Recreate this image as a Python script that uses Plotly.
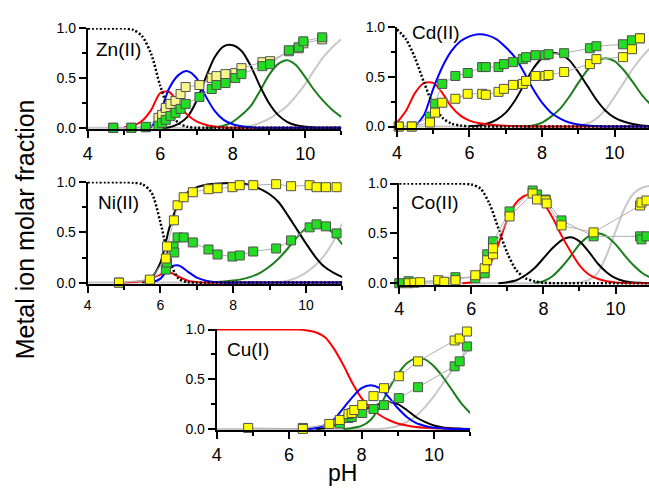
import plotly.graph_objects as go

W, H = 649, 490
FONT = "Liberation Sans, Arial, sans-serif"

# ---------------- data ----------------
PH_GRID = [4.0, 4.25, 4.5, 4.75, 5.0, 5.25, 5.5, 5.75, 6.0, 6.25, 6.5, 6.75, 7.0, 7.25,
           7.5, 7.75, 8.0, 8.25, 8.5, 8.75, 9.0, 9.25, 9.5, 9.75, 10.0, 10.25, 10.5, 10.75, 11.0]
N = None

# Zn(II) speciation curves
ZN_FREE = [1, 1, 1, 1, 1, .985, .92, .74, .42, .17, .05, .01, 0, 0, 0, 0, 0, 0, 0, 0, 0, 0, 0, 0, 0, 0, 0, 0, 0]
ZN_RED = [N, N, N, N, .005, .02, .07, .18, .35, .36, .24, .13, .065, .03, .012, .004, 0, 0, 0, 0, 0, 0, 0, 0, 0, 0, 0, 0, 0]
ZN_BLUE = [N, N, N, N, N, N, 0, .01, .16, .4, .53, .57, .5, .32, .17, .08, .035, .015, .005, 0, 0, 0, 0, 0, 0, 0, 0, 0, 0]
ZN_BLACK = [N, N, N, N, N, N, N, N, 0, .005, .04, .11, .27, .5, .71, .82, .83, .77, .62, .42, .25, .13, .06, .025, .01, .003, 0, 0, 0]
ZN_GREEN = [N, N, N, N, N, N, N, N, N, N, N, N, N, 0, .005, .02, .06, .13, .22, .37, .53, .64, .68, .63, .51, .38, .27, .18, .11]
ZN_GRAY = [0, 0, 0, 0, 0, 0, 0, 0, 0, 0, 0, 0, 0, 0, 0, 0, 0, 0, .02, .05, .09, .15, .22, .32, .44, .58, .71, .81, .89]
ZN_PTS_PH = [4.7, 5.2, 5.6, 5.95, 6.05, 6.15, 6.28, 6.42, 6.56, 6.7, 7.08, 7.42, 7.55, 7.8, 8.07, 8.24, 8.82, 9.03, 9.55, 9.82, 9.95, 10.47]
ZN_YELLOW = [0, 0, 0.005, 0.1, 0.13, 0.2, 0.24, 0.27, 0.34, 0.41, 0.43, 0.5, 0.52, 0.54, 0.55, 0.6, 0.66, 0.67, 0.77, 0.8, 0.85, 0.89]
ZN_GREENPTS = [0, 0, 0.01, 0.02, 0.05, 0.08, 0.12, 0.15, 0.19, 0.24, 0.31, 0.39, 0.43, 0.45, 0.5, 0.54, 0.62, 0.64, 0.78, 0.81, 0.87, 0.91]

# Cd(II)
CD_FREE = [.98, .88, .69, .44, .22, .09, .03, .01, 0, 0, 0, 0, 0, 0, 0, 0, 0, 0, 0, 0, 0, 0, 0, 0, 0, 0, 0, 0, 0]
CD_RED = [.04, .16, .34, .44, .44, .34, .2, .11, .06, .035, .02, .012, .007, .004, .002, 0, 0, 0, 0, 0, 0, 0, 0, 0, 0, 0, 0, 0, 0]
CD_BLUE = [N, N, 0, .12, .38, .6, .76, .86, .91, .93, .92, .88, .8, .7, .55, .38, .24, .14, .08, .04, .02, .01, .005, 0, 0, 0, 0, 0, 0]
CD_BLACK = [N, N, N, N, N, N, N, N, .005, .01, .03, .07, .14, .26, .42, .58, .69, .74, .73, .67, .55, .41, .27, .16, .09, .05, .025, .01, .005]
CD_GREEN = [N, N, N, N, N, N, N, N, N, N, N, N, N, N, 0, .01, .04, .1, .18, .3, .44, .57, .66, .69, .66, .57, .45, .32, .22]
CD_GRAY = [0, 0, 0, 0, 0, 0, 0, 0, 0, 0, 0, 0, 0, 0, 0, 0, 0, 0, 0, 0, .01, .03, .08, .17, .3, .44, .58, .7, .8]
CD_PTS_PH = [4.05, 4.41, 4.91, 5.05, 5.25, 5.61, 5.95, 6.35, 6.45, 6.8, 6.95, 7.2, 7.47, 7.56, 7.82, 8.09, 8.18, 8.61, 9.32, 9.5, 10.23, 10.48, 10.7]
CD_YELLOW = [0, 0, 0.04, 0.14, 0.24, 0.28, 0.33, 0.33, 0.32, 0.35, 0.38, 0.42, 0.43, 0.46, 0.51, 0.51, 0.52, 0.55, 0.63, 0.68, 0.7, 0.78, 0.89]
CD_GREENPTS = [0, 0, 0.1, 0.23, 0.43, 0.51, 0.54, 0.6, 0.6, 0.6, 0.63, 0.65, 0.68, 0.7, 0.72, 0.72, 0.73, 0.74, 0.79, 0.81, 0.83, 0.87, 0.89]

# Ni(II)
NI_FREE = [1, 1, 1, 1, 1, .995, .98, .9, .6, .22, .04, .005, 0, 0, 0, 0, 0, 0, 0, 0, 0, 0, 0, 0, 0, 0, 0, 0, 0]
NI_RED = [N, N, N, N, 0, .005, .015, .04, .08, .1, .06, .02, .005, 0, 0, 0, 0, 0, 0, 0, 0, 0, 0, 0, 0, 0, 0, 0, 0]
NI_BLUE = [N, N, N, N, N, N, N, 0, .04, .15, .17, .11, .05, .02, .005, 0, 0, 0, 0, 0, 0, 0, 0, 0, 0, 0, 0, 0, 0]
NI_BLACK = [N, N, N, N, N, N, 0, .05, .2, .55, .79, .9, .95, .975, .985, .99, .99, .985, .97, .93, .88, .8, .67, .53, .39, .26, .16, .1, .055]
NI_GREEN = [N, N, N, N, N, N, N, N, N, N, N, N, N, N, .005, .01, .02, .035, .06, .1, .16, .24, .34, .45, .54, .58, .56, .49, .38]
NI_GRAY = [0, 0, 0, 0, 0, 0, 0, 0, 0, 0, 0, 0, 0, 0, 0, 0, 0, 0, 0, 0, 0, .005, .02, .05, .1, .17, .27, .41, .59]
NI_YELLOW_PH = [4.86, 5.71, 6.15, 6.18, 6.37, 6.47, 6.64, 6.89, 7.32, 7.57, 7.98, 8.18, 8.55, 9.18, 9.59, 10.1, 10.29, 10.55, 10.84]
NI_YELLOW = [0, 0.03, 0.24, 0.36, 0.62, 0.77, 0.85, 0.9, 0.93, 0.94, 0.95, 0.97, 0.97, 0.98, 0.96, 0.97, 0.95, 0.95, 0.95]
NI_GREEN_PH = [4.86, 5.71, 6.15, 6.18, 6.36, 6.38, 6.47, 6.64, 6.89, 7.32, 7.57, 7.98, 8.18, 8.55, 9.18, 9.59, 10.1, 10.29, 10.55, 10.84]
NI_GREENPTS = [0, 0.02, 0.13, 0.2, 0.36, 0.3, 0.45, 0.45, 0.4, 0.33, 0.28, 0.26, 0.27, 0.31, 0.34, 0.42, 0.55, 0.58, 0.56, 0.49]

# Co(II)
CO_FREE = [1, 1, 1, 1, 1, 1, 1, 1, .99, .95, .8, .55, .3, .13, .05, .02, .005, 0, 0, 0, 0, 0, 0, 0, 0, 0, 0, 0, 0]
CO_RED = [N, N, N, N, N, N, N, 0, .01, .05, .18, .39, .64, .81, .88, .88, .8, .66, .48, .32, .18, .09, .045, .02, .008, .003, 0, 0, 0]
CO_BLACK = [N, N, N, N, N, N, N, N, N, N, N, 0, .01, .03, .08, .15, .25, .35, .43, .46, .42, .32, .2, .11, .05, .02, .008, .003, 0]
CO_GREEN = [N, N, N, N, N, N, N, N, N, N, N, N, N, N, N, .005, .02, .07, .16, .27, .39, .47, .5, .47, .39, .28, .18, .1, .05]
CO_GRAY = [0, 0, 0, 0, 0, 0, 0, 0, 0, 0, 0, 0, 0, 0, 0, 0, 0, 0, 0, 0, .01, .03, .1, .28, .52, .75, .9, .96, .98]
CO_YELLOW_PH = [4.26, 4.42, 4.58, 5.08, 5.25, 5.56, 6.11, 6.37, 6.44, 6.6, 6.6, 7.06, 7.7, 7.82, 8.06, 8.09, 8.5, 9.39, 10.68, 10.72, 10.86]
CO_YELLOW = [0, 0.005, 0.01, 0.03, 0.015, 0.03, 0.08, 0.15, 0.23, 0.29, 0.35, 0.67, 0.9, 0.84, 0.83, 0.8, 0.58, 0.51, 0.78, 0.81, 0.83]
CO_GREEN_PH = [4.0, 4.26, 5.08, 5.56, 6.11, 6.37, 6.44, 6.6, 6.6, 7.06, 7.7, 7.82, 8.06, 8.5, 9.39, 10.68, 10.72, 10.86]
CO_GREENPTS = [0.0, 0.02, 0.02, 0.06, 0.05, 0.1, 0.29, 0.4, 0.42, 0.72, 0.93, 0.89, 0.84, 0.63, 0.47, 0.47, 0.44, 0.47]

# Cu(I)
CU_RED = [1, 1, 1, 1, 1, 1, 1, 1, 1, 1, .99, .97, .92, .8, .64, .46, .31, .21, .14, .09, .055, .035, .02, .012, .007, .004, .002, 0, 0]
CU_BLUE = [N, N, N, N, N, N, N, N, N, N, 0, .01, .04, .1, .21, .32, .41, .44, .41, .32, .21, .12, .06, .03, .012, .005, 0, 0, 0]
CU_BLACK = [N, N, N, N, N, N, N, N, N, N, N, 0, .01, .04, .08, .13, .18, .22, .25, .27, .25, .19, .12, .07, .035, .015, .007, .003, 0]
CU_GREEN = [N, N, N, N, N, N, N, N, N, N, N, N, N, N, 0, .01, .03, .09, .22, .4, .55, .66, .71, .7, .63, .52, .39, .26, .16]
CU_GRAY = [0, 0, 0, 0, 0, 0, 0, 0, 0, 0, 0, 0, 0, 0, 0, 0, 0, 0, 0, .01, .03, .07, .13, .22, .33, .46, .59, .71, .81]
CU_YELLOW_PH = [4.87, 6.38, 7.11, 7.4, 7.64, 7.73, 7.8, 8.02, 8.33, 8.62, 9.03, 9.56, 10.57, 10.71, 10.91]
CU_YELLOW = [0.01, 0.0, 0.05, 0.09, 0.15, 0.16, 0.19, 0.24, 0.33, 0.41, 0.53, 0.68, 0.89, 0.91, 0.98]
CU_GREEN_PH = [6.38, 7.4, 7.64, 7.73, 8.02, 8.33, 8.62, 9.03, 9.56, 10.57, 10.71, 10.91]
CU_GREENPTS = [0.01, 0.055, 0.11, 0.12, 0.16, 0.2, 0.24, 0.31, 0.42, 0.63, 0.68, 0.83]

X_TICKS = [4, 6, 8, 10]
Y_TICKS = [0.0, 0.5, 1.0]
Y_TICKTEXT = ["0.0", "0.5", "1.0"]

# ---------------- styles ----------------
C_GRAY = "#c8c8c8"
C_GREEN = "#1a7f1a"
C_BLACK = "#000000"
C_RED = "#ff0000"
C_BLUE = "#0000ff"
PT_GREEN = "#22dd22"
PT_YELLOW = "#ffff00"
PT_YELLOW_ZN = "#f6f68c"
PT_EDGE = "#505050"
CONNECT = "#b0b0b0"
DOT = "2px,2px"

# panel pixel geometry: (x of pH 4, px per pH unit, right px limit, y of 1.0, y of 0.0)
panels = [
    dict(label="Zn(II)", lab=(90, 43), geo=(83.5, 36.5, 339.0, 21.0, 123.3), xfs=18,
         curves=[(ZN_GRAY, C_GRAY, None), (ZN_GREEN, C_GREEN, None), (ZN_BLACK, C_BLACK, None),
                 (ZN_RED, C_RED, None), (ZN_BLUE, C_BLUE, None), (ZN_FREE, C_BLACK, DOT)],
         pts=[(ZN_PTS_PH, ZN_YELLOW, PT_YELLOW_ZN), (ZN_PTS_PH, ZN_GREENPTS, PT_GREEN)]),
    dict(label="Cd(II)", lab=(408, 25), geo=(395.0, 36.55, 649.0, 20.0, 122.0), xfs=18,
         curves=[(CD_GRAY, C_GRAY, None), (CD_GREEN, C_GREEN, None), (CD_BLACK, C_BLACK, None),
                 (CD_RED, C_RED, None), (CD_BLUE, C_BLUE, None), (CD_FREE, C_BLACK, DOT)],
         pts=[(CD_PTS_PH, CD_GREENPTS, PT_GREEN), (CD_PTS_PH, CD_YELLOW, PT_YELLOW)]),
    dict(label="Ni(II)", lab=(92, 200), geo=(83.3, 36.67, 340.0, 179.3, 282.7), xfs=14,
         curves=[(NI_GRAY, C_GRAY, None), (NI_GREEN, C_GREEN, None), (NI_BLACK, C_BLACK, None),
                 (NI_RED, C_RED, None), (NI_BLUE, C_BLUE, None), (NI_FREE, C_BLACK, DOT)],
         pts=[(NI_GREEN_PH, NI_GREENPTS, PT_GREEN), (NI_YELLOW_PH, NI_YELLOW, PT_YELLOW)]),
    dict(label="Co(II)", lab=(407, 200), geo=(397.3, 36.33, 649.0, 180.7, 283.3), xfs=18,
         curves=[(CO_GRAY, C_GRAY, None), (CO_GREEN, C_GREEN, None), (CO_BLACK, C_BLACK, None),
                 (CO_RED, C_RED, None), (CO_FREE, C_BLACK, DOT)],
         pts=[(CO_GREEN_PH, CO_GREENPTS, PT_GREEN), (CO_YELLOW_PH, CO_YELLOW, PT_YELLOW)]),
    dict(label="Cu(I)", lab=(222, 352), geo=(213.3, 36.5, 468.8, 331.0, 433.3), xfs=18,
         curves=[(CU_GRAY, C_GRAY, None), (CU_GREEN, C_GREEN, None), (CU_BLACK, C_BLACK, None),
                 (CU_RED, C_RED, None), (CU_BLUE, C_BLUE, None)],
         pts=[(CU_GREEN_PH, CU_GREENPTS, PT_GREEN), (CU_YELLOW_PH, CU_YELLOW, PT_YELLOW)]),
]

YMIN, YMAX = -0.015, 1.005

fig = go.Figure()
layout = dict(
    width=W, height=H, margin=dict(l=0, r=0, t=0, b=0),
    paper_bgcolor="white", plot_bgcolor="white", showlegend=False,
    font=dict(family=FONT, color="black"),
)
annotations = []

for i, p in enumerate(panels):
    n = i + 1
    xa = "x" if n == 1 else f"x{n}"
    ya = "y" if n == 1 else f"y{n}"
    x4, ppu, xr_lim, y1, y0 = p["geo"]
    xr = min(x4 + 7 * ppu, xr_lim)
    xmax = 4 + (xr - x4) / ppu
    s = y0 - y1
    top = y1 - (YMAX - 1) * s
    bottom = y0 - YMIN * s
    xkey = "xaxis" if n == 1 else f"xaxis{n}"
    ykey = "yaxis" if n == 1 else f"yaxis{n}"
    layout[xkey] = dict(
        domain=[x4 / W, xr / W], range=[4, xmax], anchor=ya,
        showline=True, linecolor="black", linewidth=2, mirror=False,
        showgrid=False, zeroline=False,
        ticks="outside", ticklen=7, tickwidth=1.5, tickcolor="black",
        tickvals=X_TICKS, ticktext=[str(v) for v in X_TICKS],
        tickfont=dict(family=FONT, size=p["xfs"], color="black"),
        minor=dict(ticks="outside", ticklen=4, tickwidth=1.5, tickcolor="black", dtick=1, tick0=4),
    )
    layout[ykey] = dict(
        domain=[1 - bottom / H, 1 - top / H], range=[YMIN, YMAX], anchor=xa,
        showline=True, linecolor="black", linewidth=2, mirror=False,
        showgrid=False, zeroline=False,
        ticks="outside", ticklen=7, tickwidth=1.5, tickcolor="black",
        tickvals=Y_TICKS, ticktext=Y_TICKTEXT,
        tickfont=dict(family=FONT, size=14, color="black"),
        minor=dict(ticks="outside", ticklen=4, tickwidth=1.5, tickcolor="black", dtick=0.25, tick0=0),
    )
    for vals, col, dash in p["curves"]:
        fig.add_trace(go.Scatter(
            x=PH_GRID, y=vals, mode="lines", xaxis=xa, yaxis=ya,
            line=dict(color=col, width=2.5 if dash else 2, shape="spline", smoothing=0.8,
                      dash=dash if dash else "solid"),
            connectgaps=False, hoverinfo="skip"))
    for phs, vals, col in p["pts"]:
        fig.add_trace(go.Scatter(
            x=phs, y=vals, mode="lines+markers", xaxis=xa, yaxis=ya,
            line=dict(color=CONNECT, width=1),
            marker=dict(symbol="square", size=9, color=col, line=dict(color=PT_EDGE, width=1)),
            cliponaxis=False, hoverinfo="skip"))
    lx, ly = p["lab"]
    annotations.append(dict(
        text=p["label"], x=lx / W, y=1 - ly / H, xref="paper", yref="paper",
        xanchor="left", yanchor="middle", showarrow=False,
        font=dict(family=FONT, size=19, color="black")))

annotations.append(dict(
    text="Metal ion molar fraction", x=21 / W, y=1 - 228 / H, xref="paper", yref="paper",
    xanchor="center", yanchor="middle", textangle=-90, showarrow=False,
    font=dict(family=FONT, size=25, color="black")))
annotations.append(dict(
    text="pH", x=340 / W, y=1 - 479 / H, xref="paper", yref="paper",
    xanchor="center", yanchor="middle", showarrow=False,
    font=dict(family=FONT, size=23, color="black")))

layout["annotations"] = annotations
fig.update_layout(**layout)
fig.write_html("out.html")
